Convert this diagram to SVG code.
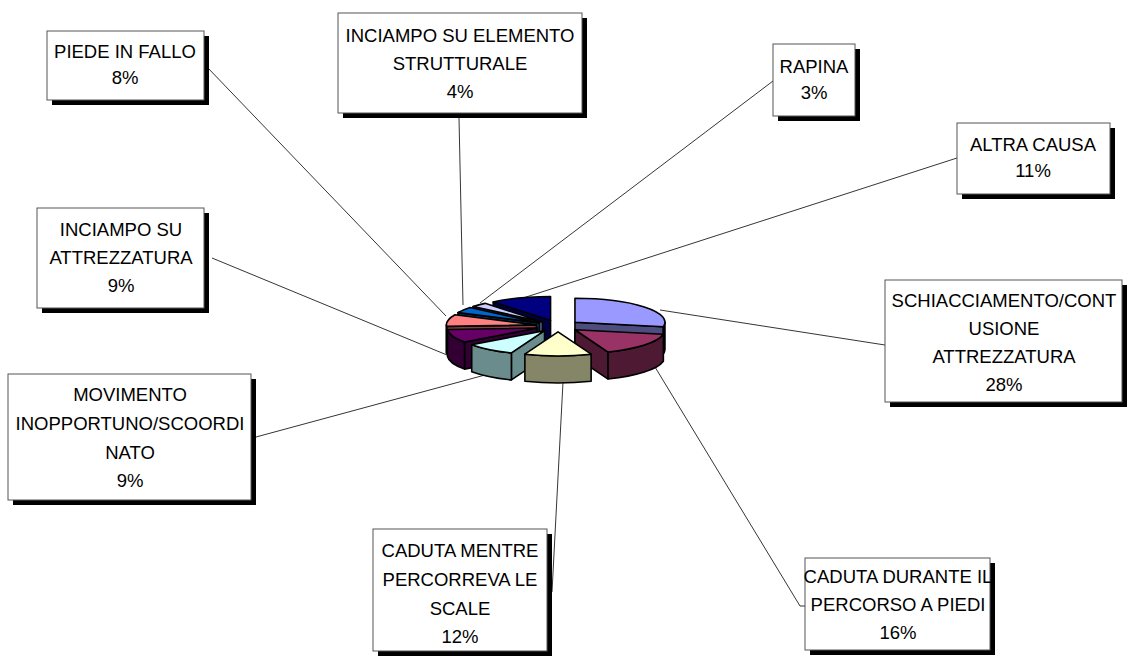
<svg xmlns="http://www.w3.org/2000/svg" width="1127" height="662" viewBox="0 0 1127 662">
<style>
.bg{fill:#fff}
.sh{fill:#000}
.bx{fill:#fff;stroke:#555;stroke-width:1}
.t{font-family:"Liberation Sans",Arial,sans-serif;font-size:18.5px;fill:#000;text-anchor:middle}
.ld{fill:none;stroke:#000;stroke-width:0.8}
.pie path{stroke:#000;stroke-width:1.6;stroke-linejoin:round}
</style>
<rect class="bg" x="0" y="0" width="1127" height="662"/>
<g id="connectors">
<line class="ld" x1="207" y1="67" x2="446" y2="316"/>
<line class="ld" x1="459" y1="118" x2="463" y2="305"/>
<line class="ld" x1="773" y1="81" x2="480" y2="303"/>
<line class="ld" x1="957" y1="158" x2="520" y2="299"/>
<line class="ld" x1="885" y1="345" x2="660" y2="310"/>
<line class="ld" x1="212" y1="258" x2="447" y2="355"/>
<line class="ld" x1="256" y1="437" x2="485" y2="375"/>
<line class="ld" x1="563" y1="382" x2="552" y2="592"/>
<polyline class="ld" points="655,367 800,606 805,606"/>
</g>
<g id="pie" class="pie">
<path fill="#000040" d="M550.55,320.48 L493.18,301.99 L493.18,328.99 L550.55,347.48 Z"/>
<path fill="#000080" d="M550.55,320.48 L493.18,301.99 A90,24 0 0 1 550.55,296.48 Z"/>
<path fill="#666680" d="M542.44,321.85 L473.09,306.55 L473.09,333.55 L542.44,348.85 Z"/>
<path fill="#CCCCFF" d="M542.44,321.85 L473.09,306.55 A90,24 0 0 1 485.07,303.36 Z"/>
<path fill="#4d4d80" d="M574.95,322.26 L663.36,326.76 L663.36,353.76 L574.95,349.26 Z"/>
<path fill="#4d4d80" d="M664.95,322.26 A90,24 0 0 1 663.36,326.76 L663.36,353.76 A90,24 0 0 0 664.95,349.26 Z"/>
<path fill="#9999FF" d="M574.95,322.26 L574.95,298.26 A90,24 0 0 1 663.36,326.76 Z"/>
<path fill="#003366" d="M539.43,322.86 L458,312.64 L458,339.64 L539.43,349.86 Z"/>
<path fill="#0066CC" d="M539.43,322.86 L458,312.64 A90,24 0 0 1 470.08,307.56 Z"/>
<path fill="#804040" d="M536.39,324.9 L446.57,326.41 L446.57,353.41 L536.39,351.9 Z"/>
<path fill="#804040" d="M446.57,326.41 A90,24 0 0 1 446.39,324.9 L446.39,351.9 A90,24 0 0 0 446.57,353.41 Z"/>
<path fill="#FF8080" d="M536.39,324.9 L446.57,326.41 A90,24 0 0 1 454.96,314.68 Z"/>
<path fill="#330033" d="M537.3,327.99 L464.49,342.1 L464.49,369.1 L537.3,354.99 Z"/>
<path fill="#330033" d="M464.49,342.1 A90,24 0 0 1 447.48,329.5 L447.48,356.5 A90,24 0 0 0 464.49,369.1 Z"/>
<path fill="#660066" d="M537.3,327.99 L464.49,342.1 A90,24 0 0 1 447.48,329.5 Z"/>
<path fill="#4d1933" d="M574.95,329.74 L608.08,352.06 L608.08,379.06 L574.95,356.74 Z"/>
<path fill="#4d1933" d="M663.36,334.24 A90,24 0 0 1 608.08,352.06 L608.08,379.06 A90,24 0 0 0 663.36,361.24 Z"/>
<path fill="#993366" d="M574.95,329.74 L663.36,334.24 A90,24 0 0 1 608.08,352.06 Z"/>
<path fill="#6a8c8c" d="M544.52,330.64 L511.39,352.96 L511.39,379.96 L544.52,357.64 Z"/>
<path fill="#6a8c8c" d="M511.39,352.96 A90,24 0 0 1 471.71,344.75 L471.71,371.75 A90,24 0 0 0 511.39,379.96 Z"/>
<path fill="#CCFFFF" d="M544.52,330.64 L511.39,352.96 A90,24 0 0 1 471.71,344.75 Z"/>
<path fill="#858568" d="M591.13,354.19 A90,24 0 0 1 524.87,354.19 L524.87,381.19 A90,24 0 0 0 591.13,381.19 Z"/>
<path fill="#FFFFCC" d="M558,331.87 L591.13,354.19 A90,24 0 0 1 524.87,354.19 Z"/>
</g>
<g id="label-piede">
<rect class="sh" x="52" y="36" width="157" height="69"/>
<rect class="bx" x="47" y="31" width="157" height="69"/>
<text class="t" x="125" y="58">PIEDE IN FALLO</text>
<text class="t" x="125" y="84">8%</text>
</g>
<g id="label-strutturale">
<rect class="sh" x="343" y="18" width="244" height="100"/>
<rect class="bx" x="338" y="13" width="244" height="100"/>
<text class="t" x="460" y="42">INCIAMPO SU ELEMENTO</text>
<text class="t" x="460" y="70">STRUTTURALE</text>
<text class="t" x="460" y="98">4%</text>
</g>
<g id="label-rapina">
<rect class="sh" x="778" y="49" width="82" height="72"/>
<rect class="bx" x="773" y="44" width="82" height="72"/>
<text class="t" x="814" y="73">RAPINA</text>
<text class="t" x="814" y="99">3%</text>
</g>
<g id="label-altra">
<rect class="sh" x="962" y="128" width="153" height="71"/>
<rect class="bx" x="957" y="123" width="153" height="71"/>
<text class="t" x="1033" y="151">ALTRA CAUSA</text>
<text class="t" x="1033" y="177">11%</text>
</g>
<g id="label-schiacciamento">
<rect class="sh" x="890" y="285" width="237" height="122"/>
<rect class="bx" x="885" y="280" width="237" height="122"/>
<text class="t" x="1004" y="307">SCHIACCIAMENTO/CONT</text>
<text class="t" x="1004" y="335">USIONE</text>
<text class="t" x="1004" y="363">ATTREZZATURA</text>
<text class="t" x="1004" y="391">28%</text>
</g>
<g id="label-attrezzatura">
<rect class="sh" x="42" y="213" width="167" height="100"/>
<rect class="bx" x="37" y="208" width="167" height="100"/>
<text class="t" x="121" y="236">INCIAMPO SU</text>
<text class="t" x="121" y="264">ATTREZZATURA</text>
<text class="t" x="121" y="292">9%</text>
</g>
<g id="label-movimento">
<rect class="sh" x="13" y="379" width="243" height="126"/>
<rect class="bx" x="8" y="374" width="243" height="126"/>
<text class="t" x="130" y="401">MOVIMENTO</text>
<text class="t" x="130" y="430">INOPPORTUNO/SCOORDI</text>
<text class="t" x="130" y="459">NATO</text>
<text class="t" x="130" y="487">9%</text>
</g>
<g id="label-scale">
<rect class="sh" x="378" y="534" width="174" height="122"/>
<rect class="bx" x="373" y="529" width="174" height="122"/>
<text class="t" x="460" y="557">CADUTA MENTRE</text>
<text class="t" x="460" y="586">PERCORREVA LE</text>
<text class="t" x="460" y="615">SCALE</text>
<text class="t" x="460" y="643">12%</text>
</g>
<g id="label-piedi">
<rect class="sh" x="810" y="563" width="185" height="92"/>
<rect class="bx" x="805" y="558" width="185" height="92"/>
<text class="t" x="898" y="583">CADUTA DURANTE IL</text>
<text class="t" x="898" y="611">PERCORSO A PIEDI</text>
<text class="t" x="898" y="639">16%</text>
</g>
</svg>
